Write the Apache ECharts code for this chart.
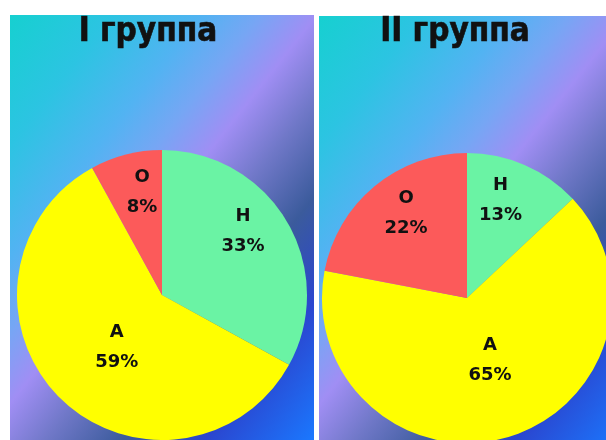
<!DOCTYPE html>
<html>
<head>
<meta charset="utf-8">
<script src="https://cdn.jsdelivr.net/npm/echarts@6/dist/echarts.min.js"></script>
<style>
  html, body { margin: 0; padding: 0; background: #ffffff; }
  #chart { width: 606px; height: 440px; }
</style>
</head>
<body>
<div id="chart"></div>
<script>
// Group titles, categories and shares (%)
const groupTitles = ['I группа', 'II группа'];
const categories = ['Н', 'А', 'О'];
const group1Values = [33, 59, 8];
const group2Values = [13, 65, 22];
const groupValues = [group1Values, group2Values];

// Slice colours, in category order
const sliceColors = ['#6af3a4', '#ffff00', '#fc5a5a'];

// Panel frames and pie centres; per label: distance from centre (fraction of
// radius) and a small turn (degrees) away from the slice bisector
const panels = [
  { x: 10,  y: 15, w: 304, h: 425, cx: 162, cy: 295, titleX: 148,
    labelFrac: [0.71, 0.475, 0.72], labelTurn: [-7.5, -4, 3.4] },
  { x: 319, y: 16, w: 287, h: 424, cx: 467, cy: 298, titleX: 455,
    labelFrac: [0.715, 0.455, 0.72], labelTurn: [-4.5, -4.2, 3.9] }
];
const pieRadius = 145;

// Diagonal backdrop: cyan -> sky blue -> lavender -> slate -> deep blue
const backdropStops = [
  { offset: 0.00, color: '#16d0d0' },
  { offset: 0.16, color: '#2cc4e2' },
  { offset: 0.30, color: '#52b3f2' },
  { offset: 0.39, color: '#76a6f4' },
  { offset: 0.48, color: '#a08ef4' },
  { offset: 0.58, color: '#7078c8' },
  { offset: 0.70, color: '#3b5b9c' },
  { offset: 0.83, color: '#2b46cf' },
  { offset: 1.00, color: '#1a78ff' }
];

const chart = echarts.init(document.getElementById('chart'), null, { renderer: 'canvas' });

const graphics = [];
const series = [];

panels.forEach(function (p, gi) {
  graphics.push({
    type: 'rect',
    z: -10,
    shape: { x: p.x, y: p.y, width: p.w, height: p.h },
    style: {
      fill: new echarts.graphic.LinearGradient(0, 0, 394 / p.w, 311 / p.h, backdropStops)
    },
    silent: true
  });
  graphics.push({
    type: 'text',
    z: 10,
    x: p.titleX,
    y: 32,
    style: {
      text: groupTitles[gi],
      font: 'bold 33px "DejaVu Sans Condensed", "DejaVu Sans", sans-serif',
      fill: '#111111',
      stroke: '#111111',
      lineWidth: 0.6,
      align: 'center',
      verticalAlign: 'middle'
    },
    silent: true
  });

  series.push({
    type: 'pie',
    center: [p.cx, p.cy],
    radius: [0, pieRadius],
    startAngle: 90,
    clockwise: true,
    silent: true,
    animation: false,
    itemStyle: { borderWidth: 0 },
    label: {
      show: true,
      position: 'inside',
      formatter: '{b}\n{c}%',
      color: '#111111',
      fontFamily: '"DejaVu Sans", sans-serif',
      fontWeight: 'bold',
      fontSize: 18,
      lineHeight: 30,
      align: 'center'
    },
    labelLine: { show: false },
    // Move each inside label along / around its slice bisector
    labelLayout: function (params) {
      const r = params.labelRect;
      const lx = r.x + r.width / 2;
      const ly = r.y + r.height / 2;
      const ang = Math.atan2(lx - p.cx, -(ly - p.cy)) + p.labelTurn[params.dataIndex] * Math.PI / 180;
      const dist = p.labelFrac[params.dataIndex] * pieRadius;
      const nx = p.cx + dist * Math.sin(ang);
      const ny = p.cy - dist * Math.cos(ang);
      return { dx: nx - lx, dy: ny - ly };
    },
    data: categories.map(function (name, i) {
      return { name: name, value: groupValues[gi][i], itemStyle: { color: sliceColors[i] } };
    })
  });
});

chart.setOption({
  backgroundColor: '#ffffff',
  animation: false,
  graphic: graphics,
  series: series
});
</script>
</body>
</html>
